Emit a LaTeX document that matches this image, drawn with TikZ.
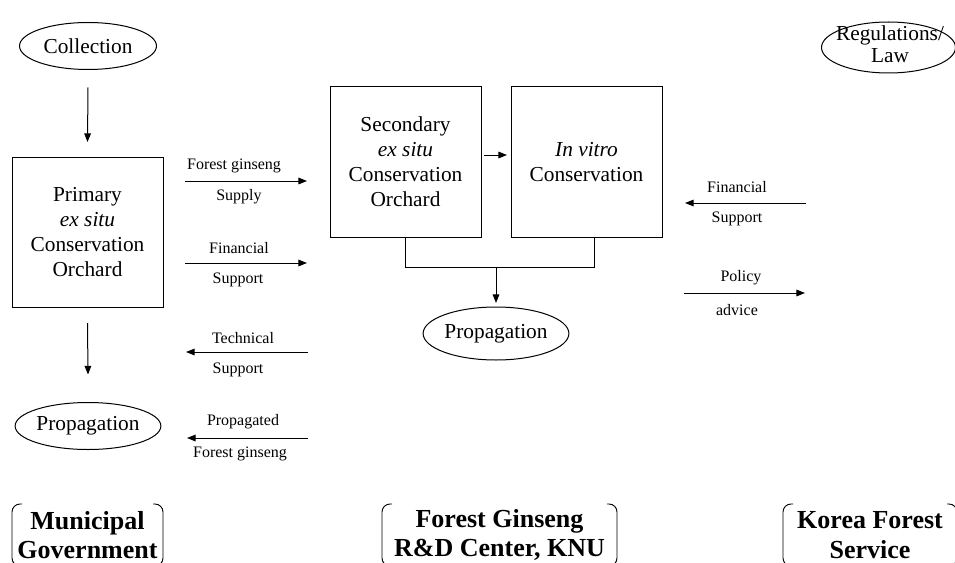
\documentclass[tikz,border=0pt]{standalone}
\usepackage{fontspec}
\setmainfont{Liberation Serif}
\usetikzlibrary{shapes.geometric,arrows.meta}
\newlength\pxu
\setlength\pxu{0.75pt}
\begin{document}
\begin{tikzpicture}[x=0.75pt,y=-0.75pt,
  every node/.style={inner sep=0pt, outer sep=0pt},
  mainfont/.style={font=\fontsize{16}{18.75}\selectfont},
  lbl/.style={font=\fontsize{12}{14}\selectfont},
  oval/.style={draw, ellipse, line width=0.75pt, mainfont, align=center},
  boxnode/.style={draw, rectangle, mainfont, align=center, minimum width=151\pxu, minimum height=150\pxu, line width=0.75pt},
  arr/.style={-{Triangle[length=6.5pt,width=5pt]}, line width=0.75pt},
  plainline/.style={line width=0.75pt},
  org/.style={font=\bfseries\fontsize{19.5}{22}\selectfont, align=center, minimum height=62\pxu},
  brk/.style={line width=0.7pt, rounded corners=8\pxu}
]
\useasboundingbox (0,0) rectangle (955,563);
\clip (0,0) rectangle (955,563);

% left column
\node[oval, minimum width=137\pxu, minimum height=47\pxu] (coll) at (88,46) {Collection};
\node[boxnode] (prim) at (87.5,232) {Primary\\\textit{ex situ}\\Conservation\\Orchard};
\node[oval, minimum width=137\pxu, minimum height=47\pxu] (propL) at (88,426) {Propagation};
\draw[arr] ([yshift=-18\pxu]coll.south) -- ([yshift=15\pxu]prim.north);
\draw[arr] ([yshift=-16\pxu]prim.south) -- ([yshift=28\pxu]propL.north);

% left arrows
\coordinate (a1s) at (185,181); \coordinate (a1e) at (307,181);
\draw[arr] (a1s) -- (a1e);
\node[lbl] (a1t) at (234,166) {Forest ginseng};
\node[lbl] (a1b) at (239,197) {Supply};

\coordinate (a2s) at (185,263); \coordinate (a2e) at (307,263);
\draw[arr] (a2s) -- (a2e);
\node[lbl] (a2t) at (239,248) {Financial};
\node[lbl] (a2b) at (238,280) {Support};

\coordinate (a3s) at (308,352); \coordinate (a3e) at (186,352);
\draw[arr] (a3s) -- (a3e);
\node[lbl] (a3t) at (243,338) {Technical};
\node[lbl] (a3b) at (238,370) {Support};

\coordinate (a4s) at (308,438); \coordinate (a4e) at (187,438);
\draw[arr] (a4s) -- (a4e);
\node[lbl] (a4t) at (243,422) {Propagated};
\node[lbl] (a4b) at (240,454) {Forest ginseng};

% centre
\node[boxnode] (sec) at (405.5,162) {Secondary\\\textit{ex situ}\\Conservation\\Orchard};
\node[boxnode] (inv) at (586.5,162) {\textit{In vitro}\\Conservation};
\draw[arr] ([xshift=3\pxu,yshift=7\pxu]sec.east) -- ([xshift=-4\pxu,yshift=7\pxu]inv.west);
\node[oval, minimum width=137\pxu, minimum height=53\pxu] (propC) at (496,333.5) {Propagation};
\coordinate (j) at (496,267);
\coordinate (invb) at (594,237);
\draw[plainline] (sec.south) |- (invb |- j) -- (invb);
\draw[arr] (j) -- ([yshift=4\pxu]propC.north);

% right
\node[draw, ellipse, line width=0.75pt, minimum width=134\pxu, minimum height=51\pxu] (reg) at (888.5,47.5) {};
\node[font=\fontsize{16}{16.5}\selectfont, align=center] (regt) at (890,44) {Regulations/\\Law};

\coordinate (a5s) at (806,203); \coordinate (a5e) at (685,203);
\draw[arr] (a5s) -- (a5e);
\node[lbl] (a5t) at (737,187) {Financial};
\node[lbl] (a5b) at (737,219) {Support};

\coordinate (a6s) at (684,293); \coordinate (a6e) at (805,293);
\draw[arr] (a6s) -- (a6e);
\node[lbl] (a6t) at (741,278) {Policy};
\node[lbl] (a6b) at (737,310) {advice};

% organisations
\node[org, minimum width=151\pxu] (muni) at (87.5,535) {Municipal\\Government};
\node[org, minimum width=235\pxu] (fgrd) at (499.5,535) {Forest Ginseng\\R\&D Center, KNU};
\node[org, minimum width=174\pxu] (kfs) at (870,535) {Korea Forest\\Service};
\foreach \n in {muni,fgrd,kfs}{
  \draw[brk] ([xshift=10\pxu]\n.north west) -- (\n.north west) -- (\n.south west) -- ([xshift=10\pxu]\n.south west);
  \draw[brk] ([xshift=-10\pxu]\n.north east) -- (\n.north east) -- (\n.south east) -- ([xshift=-10\pxu]\n.south east);
}
\end{tikzpicture}
\end{document}
